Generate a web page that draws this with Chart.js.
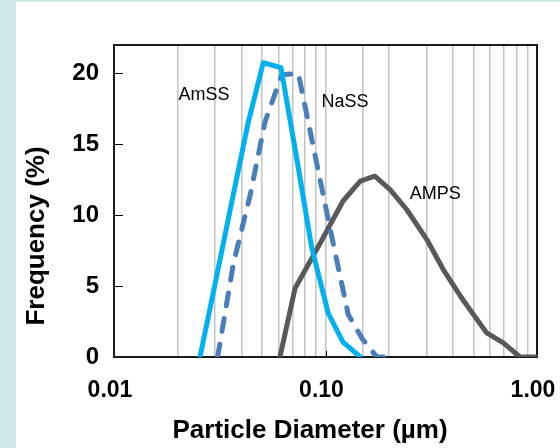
<!DOCTYPE html>
<html><head><meta charset="utf-8">
<script src="https://cdn.jsdelivr.net/npm/chart.js@4/dist/chart.umd.min.js"></script>
<style>html,body{margin:0;padding:0;background:#cde9ea;overflow:hidden;}canvas{display:block;}</style>
</head><body>
<canvas id="c" width="560" height="448"></canvas>
<script>
// ---- data ----
const amssX = [0.0255, 0.0300, 0.0359, 0.0432, 0.0508, 0.0616, 0.0729, 0.0861, 0.103, 0.121, 0.146];
const amssY = [0, 5.1, 10.8, 16.6, 20.75, 20.4, 14.1, 7.7, 3.1, 1.05, 0];
const nassX = [0.0309, 0.0367, 0.0440, 0.0518, 0.0621, 0.0744, 0.0882, 0.106, 0.128, 0.149, 0.175, 0.213];
const nassY = [0, 6.6, 11.4, 16.6, 19.9, 20.0, 14.6, 8.8, 3.0, 1.3, 0, 0];
const ampsX = [0.0609, 0.0718, 0.0942, 0.121, 0.146, 0.171, 0.202, 0.242, 0.301, 0.361, 0.448, 0.578, 0.693, 0.831, 1.0];
const ampsY = [0, 4.85, 8.0, 11.0, 12.4, 12.75, 11.8, 10.4, 8.3, 6.15, 4.0, 1.7, 1.0, 0, 0];
const seriesNames = ['AmSS', 'NaSS', 'AMPS'];
const xTickLabels = [0.01, 0.1, 1];
const yTickValues = [0, 5, 10, 15, 20];
const xTitle = 'Particle Diameter (µm)';
const yTitle = 'Frequency (%)';

const FONT = '"Liberation Sans", Arial, sans-serif';
const pts = (xs, ys) => xs.map((x, i) => ({x, y: ys[i]}));

const decor = {
  id: 'decor',
  beforeDraw(chart) {
    const ctx = chart.ctx;
    ctx.save();
    ctx.fillStyle = '#cde9ea';
    ctx.fillRect(0, 0, chart.width, chart.height);
    ctx.fillStyle = '#ffffff';
    ctx.fillRect(16, 2, chart.width - 16, chart.height - 2);
    ctx.restore();
  },
  beforeDatasetsDraw(chart) {
    const {ctx, chartArea: a, scales} = chart;
    ctx.save();
    ctx.strokeStyle = '#000';
    ctx.lineWidth = 1;
    yTickValues.forEach(v => {
      const py = Math.round(scales.y.getPixelForValue(v)) + 0.5;
      ctx.beginPath(); ctx.moveTo(a.left, py); ctx.lineTo(a.left + 9, py); ctx.stroke();
    });
    xTickLabels.forEach(v => {
      const px = Math.round(scales.x.getPixelForValue(v)) + 0.5;
      ctx.beginPath(); ctx.moveTo(px, a.bottom); ctx.lineTo(px, a.bottom - 6); ctx.stroke();
    });
    ctx.lineWidth = 2;
    ctx.strokeStyle = '#1a1a1a';
    ctx.strokeRect(a.left, a.top, a.right - a.left, a.bottom - a.top);
    ctx.restore();
  },
  afterDraw(chart) {
    const {ctx, scales} = chart;
    const o = chart.options.plugins.decor;
    ctx.save();
    ctx.fillStyle = '#000';
    ctx.textAlign = 'center';
    ctx.textBaseline = 'middle';
    ctx.font = '18px ' + FONT;
    o.labels.forEach(l => {
      ctx.fillText(l.text, scales.x.getPixelForValue(l.x), scales.y.getPixelForValue(l.y));
    });
    ctx.font = 'bold 26px ' + FONT;
    ctx.fillText(xTitle, o.xTitlePos[0], o.xTitlePos[1]);
    ctx.translate(o.yTitlePos[0], o.yTitlePos[1]);
    ctx.rotate(-Math.PI / 2);
    ctx.fillText(yTitle, 0, 0);
    ctx.restore();
  }
};

new Chart(document.getElementById('c'), {
  type: 'line',
  data: {
    datasets: [
      {label: seriesNames[0], data: pts(amssX, amssY), borderColor: '#00b0f0', borderWidth: 5, pointRadius: 0, tension: 0, borderJoinStyle: 'round', borderCapStyle: 'round'},
      {label: seriesNames[1], data: pts(nassX, nassY), borderColor: '#4a7ebb', borderWidth: 5, borderDash: [13, 13], pointRadius: 0, tension: 0, borderJoinStyle: 'round', borderCapStyle: 'round'},
      {label: seriesNames[2], data: pts(ampsX, ampsY), borderColor: '#595959', borderWidth: 5, pointRadius: 0, tension: 0, borderJoinStyle: 'round', borderCapStyle: 'round'}
    ]
  },
  options: {
    responsive: false,
    devicePixelRatio: 1,
    animation: false,
    layout: {padding: {left: 0, top: 45, right: 23, bottom: 0}},
    plugins: {
      legend: {display: false},
      tooltip: {enabled: false},
      decor: {
        labels: [
          {text: seriesNames[0], x: 0.02664, y: 18.5},
          {text: seriesNames[1], x: 0.1237, y: 18.0},
          {text: seriesNames[2], x: 0.3305, y: 11.5}
        ],
        xTitlePos: [310, 431],
        yTitlePos: [37, 236]
      }
    },
    scales: {
      x: {
        type: 'logarithmic', min: 0.01, max: 1, position: 'bottom',
        afterFit: s => { s.height = 91; s.paddingLeft = 0; s.paddingRight = 0; },
        border: {display: false},
        grid: {color: '#c3c3c3', lineWidth: 1.5, drawTicks: false},
        ticks: {
          autoSkip: false, maxRotation: 0, padding: 20, labelOffset: -4, color: '#000',
          font: {family: FONT, size: 23, weight: 'bold'},
          callback: v => {
            const l = Math.log10(v);
            return Math.abs(l - Math.round(l)) < 1e-6 ? Number(v).toFixed(2) : '';
          }
        }
      },
      y: {
        min: 0, max: 22,
        afterFit: s => { s.width = 114; s.paddingTop = 0; s.paddingBottom = 0; },
        afterBuildTicks: s => { s.ticks = yTickValues.map(v => ({value: v})); },
        border: {display: false},
        grid: {display: false, drawTicks: false},
        ticks: {padding: 15, color: '#000', font: {family: FONT, size: 24, weight: 'bold'}}
      }
    }
  },
  plugins: [decor]
});
</script>
</body></html>
